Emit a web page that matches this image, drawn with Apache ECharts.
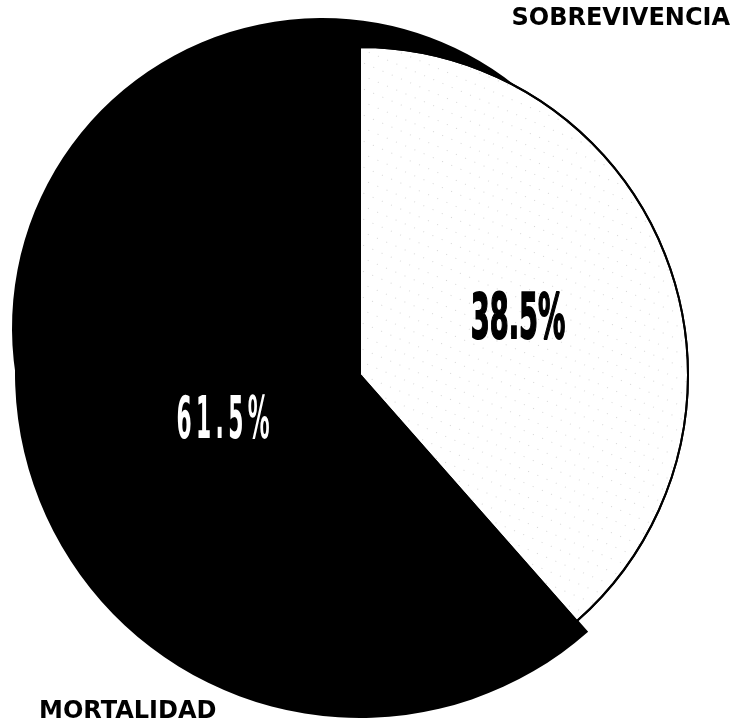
<!DOCTYPE html>
<html>
<head>
<meta charset="utf-8">
<title>Sobrevivencia / Mortalidad</title>
<script src="https://cdn.jsdelivr.net/npm/echarts@6/dist/echarts.min.js"></script>
<style>
  html, body { margin: 0; padding: 0; background: #ffffff; }
  #chart { width: 733px; height: 726px; }
</style>
</head>
<body>
<div id="chart"></div>
<script>
// Slice names and their shares (percent)
const categories = ['SOBREVIVENCIA', 'MORTALIDAD'];
const shares = [38.5, 61.5];
const sliceColors = ['#ffffff', '#000000'];

const NONE = 'rgba(0,0,0,0)';
const pct = v => v.toFixed(1) + '%';

// data for a pie layer where only the chosen slices are painted
function layer(showIdx, withBorder) {
  return shares.map((v, i) => {
    const on = showIdx.indexOf(i) >= 0;
    return {
      name: categories[i],
      value: v,
      itemStyle: {
        color: on ? sliceColors[i] : NONE,
        borderColor: on && withBorder ? '#000000' : NONE,
        borderWidth: on && withBorder ? 2 : 0,
        decal: on && withBorder ? {
          symbol: 'rect',
          symbolSize: 1,
          color: 'rgba(0,0,0,0.16)',
          dashArrayX: [1, 9],
          dashArrayY: [1, 11],
          rotation: 0.4
        } : undefined
      }
    };
  });
}

const pieBase = {
  type: 'pie',
  clockwise: true,
  silent: true,
  animation: false,
  label: { show: false },
  labelLine: { show: false },
  emphasis: { disabled: true }
};

const chart = echarts.init(document.getElementById('chart'), null, { renderer: 'canvas' });

chart.setOption({
  backgroundColor: '#ffffff',
  animation: false,
  series: [
    // dark slice, upper-left lobe of the disc (slightly tilted outline)
    Object.assign({}, pieBase, {
      name: 'lobe',
      z: 1,
      center: [322, 328],
      radius: 310,
      startAngle: 49,
      data: layer([1], false)
    }),
    // dark slice, main body
    Object.assign({}, pieBase, {
      name: 'mortalidad',
      z: 2,
      center: [360, 373],
      radius: 345,
      startAngle: 90,
      data: layer([1], false)
    }),
    // light slice with thin outline
    Object.assign({}, pieBase, {
      name: 'sobrevivencia',
      z: 3,
      center: [360, 375],
      radius: 328,
      startAngle: 90,
      data: layer([0], true)
    })
  ],
  graphic: [
    {
      type: 'text', z: 20, x: 518, y: 322, scaleX: 0.44,
      style: {
        text: pct(shares[0]),
        font: 'bold 62px "DejaVu Sans"',
        fill: '#000000', stroke: '#000000', lineWidth: 2,
        align: 'center', verticalAlign: 'middle',
        textAlign: 'center', textVerticalAlign: 'middle'
      }
    },
    {
      type: 'text', z: 20, x: 223, y: 423, scaleX: 0.37,
      style: {
        text: pct(shares[1]).split('').join('\u2009'),
        font: 'bold 59px "DejaVu Sans"',
        fill: '#ffffff',
        align: 'center', verticalAlign: 'middle',
        textAlign: 'center', textVerticalAlign: 'middle'
      }
    },
    {
      type: 'text', z: 20, x: 730, y: 19,
      style: {
        text: categories[0],
        font: 'bold 24px "DejaVu Sans"',
        fill: '#000000',
        align: 'right', verticalAlign: 'middle',
        textAlign: 'right', textVerticalAlign: 'middle'
      }
    },
    {
      type: 'text', z: 20, x: 39, y: 712,
      style: {
        text: categories[1],
        font: 'bold 24px "DejaVu Sans"',
        fill: '#000000',
        align: 'left', verticalAlign: 'middle',
        textAlign: 'left', textVerticalAlign: 'middle'
      }
    }
  ]
});
</script>
</body>
</html>
